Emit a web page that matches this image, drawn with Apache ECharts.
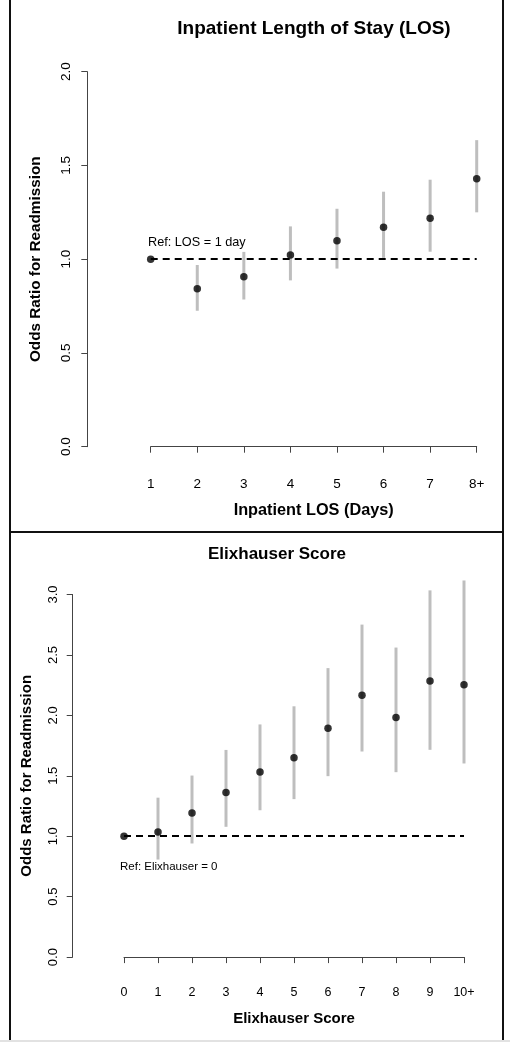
<!DOCTYPE html>
<html>
<head>
<meta charset="utf-8">
<script src="https://cdn.jsdelivr.net/npm/echarts@6/dist/echarts.min.js"></script>
<style>
  html, body { margin: 0; padding: 0; background: #fff; }
  #chart { width: 510px; height: 1050px; }
</style>
</head>
<body>
<div id="chart"></div>
<script>
// ---- Data ----
const LOS_CATS = ['1', '2', '3', '4', '5', '6', '7', '8+'];
const LOS_OR   = [1.0, 0.843, 0.906, 1.023, 1.098, 1.171, 1.218, 1.429];
const LOS_LO   = [null, 0.725, 0.785, 0.887, 0.950, 1.007, 1.040, 1.250];
const LOS_HI   = [null, 0.969, 1.039, 1.175, 1.269, 1.360, 1.424, 1.635];
const LOS_REF  = 1.0;
const LOS_Y_TICKS = [0, 0.5, 1.0, 1.5, 2.0];

const ELIX_CATS = ['0', '1', '2', '3', '4', '5', '6', '7', '8', '9', '10+'];
const ELIX_OR   = [1.0, 1.035, 1.193, 1.361, 1.532, 1.650, 1.894, 2.167, 1.982, 2.284, 2.254];
const ELIX_LO   = [null, 0.807, 0.940, 1.078, 1.215, 1.307, 1.497, 1.701, 1.530, 1.715, 1.602];
const ELIX_HI   = [null, 1.319, 1.502, 1.714, 1.925, 2.075, 2.391, 2.751, 2.561, 3.034, 3.116];
const ELIX_REF  = 1.0;
const ELIX_Y_TICKS = [0, 0.5, 1.0, 1.5, 2.0, 2.5, 3.0];

const TITLES = ['Inpatient Length of Stay (LOS)', 'Elixhauser Score'];
const X_NAMES = ['Inpatient LOS (Days)', 'Elixhauser Score'];
const Y_NAME = 'Odds Ratio for Readmission';
const REF_TEXTS = ['Ref: LOS = 1 day', 'Ref: Elixhauser = 0'];

// ---- Chart ----
const FONT = '"Liberation Sans", Arial, Helvetica, sans-serif';
const chart = echarts.init(document.getElementById('chart'), null, { renderer: 'canvas' });

function errData(cats, lo, hi) {
  return cats.map((c, i) => [i, lo[i], hi[i]]);
}
function ptData(cats, v) {
  return cats.map((c, i) => [i, v[i]]);
}
function renderErr(params, api) {
  const lo = api.value(1), hi = api.value(2);
  if (lo == null || hi == null || isNaN(lo) || isNaN(hi)) return null;
  const x = api.value(0);
  const p1 = api.coord([x, lo]);
  const p2 = api.coord([x, hi]);
  return {
    type: 'line',
    shape: { x1: p1[0], y1: p1[1], x2: p2[0], y2: p2[1] },
    style: { stroke: '#bebebe', lineWidth: 3 }
  };
}

function xAxisCfg(idx, cats, name, fs, nfs, offset, margin, nameGap) {
  return {
    type: 'category', gridIndex: idx, data: cats, boundaryGap: false,
    position: 'bottom', offset: offset,
    axisLine: { show: true, lineStyle: { color: '#444', width: 1 } },
    axisTick: { show: true, length: 6, alignWithLabel: true, lineStyle: { color: '#444', width: 1 } },
    axisLabel: { margin: margin, fontSize: fs, color: '#000', fontFamily: FONT, interval: 0 },
    splitLine: { show: false },
    name: name, nameLocation: 'middle', nameGap: nameGap,
    nameTextStyle: { fontSize: nfs, fontWeight: 'bold', color: '#000', fontFamily: FONT }
  };
}
function yAxisCfg(idx, ticks, fs, nfs, offset, margin, nameGap) {
  return {
    type: 'value', gridIndex: idx,
    min: ticks[0], max: ticks[ticks.length - 1], interval: ticks[1] - ticks[0],
    position: 'left', offset: offset,
    axisLine: { show: true, lineStyle: { color: '#444', width: 1 } },
    axisTick: { show: true, length: 6, lineStyle: { color: '#444', width: 1 } },
    axisLabel: { rotate: 90, margin: margin, fontSize: fs, color: '#000', fontFamily: FONT,
                 formatter: v => v.toFixed(1) },
    splitLine: { show: false },
    name: Y_NAME, nameLocation: 'middle', nameGap: nameGap,
    nameTextStyle: { fontSize: nfs, fontWeight: 'bold', color: '#000', fontFamily: FONT }
  };
}

const option = {
  animation: false,
  backgroundColor: '#fff',
  grid: [
    { left: 150.7, right: 33.3, top: 71.7, bottom: 603.3, containLabel: false, outerBoundsMode: 'none' },
    { left: 124, right: 46, top: 594.5, bottom: 92.9, containLabel: false, outerBoundsMode: 'none' }
  ],
  xAxis: [
    xAxisCfg(0, LOS_CATS, X_NAMES[0], 13.5, 16.3, 16, 14.5, 39.5),
    xAxisCfg(1, ELIX_CATS, X_NAMES[1], 12.5, 15, 15.2, 13.5, 39)
  ],
  yAxis: [
    yAxisCfg(0, LOS_Y_TICKS, 13.5, 15.3, 63.4, 14.5, 44.5),
    yAxisCfg(1, ELIX_Y_TICKS, 13, 15, 51.3, 13, 38.3)
  ],
  series: [
    {
      type: 'custom', xAxisIndex: 0, yAxisIndex: 0, z: 2,
      renderItem: renderErr, encode: { x: 0, y: [1, 2] },
      data: errData(LOS_CATS, LOS_LO, LOS_HI), silent: true
    },
    {
      type: 'scatter', xAxisIndex: 0, yAxisIndex: 0, z: 4,
      symbol: 'circle', symbolSize: 7.5, itemStyle: { color: '#000' },
      data: ptData(LOS_CATS, LOS_OR), silent: true,
      markLine: {
        silent: true, symbol: ['none', 'none'], label: { show: false }, z: 3,
        lineStyle: { type: [7, 5], color: '#000', width: 2 },
        data: [{ yAxis: LOS_REF }]
      }
    },
    {
      type: 'custom', xAxisIndex: 1, yAxisIndex: 1, z: 2,
      renderItem: renderErr, encode: { x: 0, y: [1, 2] },
      data: errData(ELIX_CATS, ELIX_LO, ELIX_HI), silent: true
    },
    {
      type: 'scatter', xAxisIndex: 1, yAxisIndex: 1, z: 4,
      symbol: 'circle', symbolSize: 7.5, itemStyle: { color: '#000' },
      data: ptData(ELIX_CATS, ELIX_OR), silent: true,
      markLine: {
        silent: true, symbol: ['none', 'none'], label: { show: false }, z: 3,
        lineStyle: { type: [7, 5], color: '#000', width: 2 },
        data: [{ yAxis: ELIX_REF }]
      }
    }
  ],
  graphic: [
    // panel borders
    { type: 'line', shape: { x1: 10, y1: 0, x2: 10, y2: 1041 }, style: { stroke: '#111', lineWidth: 2 }, silent: true },
    { type: 'line', shape: { x1: 503, y1: 0, x2: 503, y2: 1041 }, style: { stroke: '#111', lineWidth: 2 }, silent: true },
    { type: 'line', shape: { x1: 10, y1: 532, x2: 503, y2: 532 }, style: { stroke: '#111', lineWidth: 2 }, silent: true },
    { type: 'line', shape: { x1: 0, y1: 1041, x2: 510, y2: 1041 }, style: { stroke: '#e2e2e2', lineWidth: 2 }, silent: true },
    // titles
    { type: 'text', x: 314, y: 29, silent: true,
      style: { text: TITLES[0], textAlign: 'center', textVerticalAlign: 'middle',
               font: 'bold 19px ' + FONT, fill: '#000' } },
    { type: 'text', x: 277, y: 554, silent: true,
      style: { text: TITLES[1], textAlign: 'center', textVerticalAlign: 'middle',
               font: 'bold 17px ' + FONT, fill: '#000' } },
    // reference annotations
    { type: 'text', x: 148, y: 242, silent: true,
      style: { text: REF_TEXTS[0], textAlign: 'left', textVerticalAlign: 'middle',
               font: '12.7px ' + FONT, fill: '#000' } },
    { type: 'text', x: 120, y: 867, silent: true,
      style: { text: REF_TEXTS[1], textAlign: 'left', textVerticalAlign: 'middle',
               font: '11.5px ' + FONT, fill: '#000' } }
  ]
};
chart.setOption(option);
</script>
</body>
</html>
